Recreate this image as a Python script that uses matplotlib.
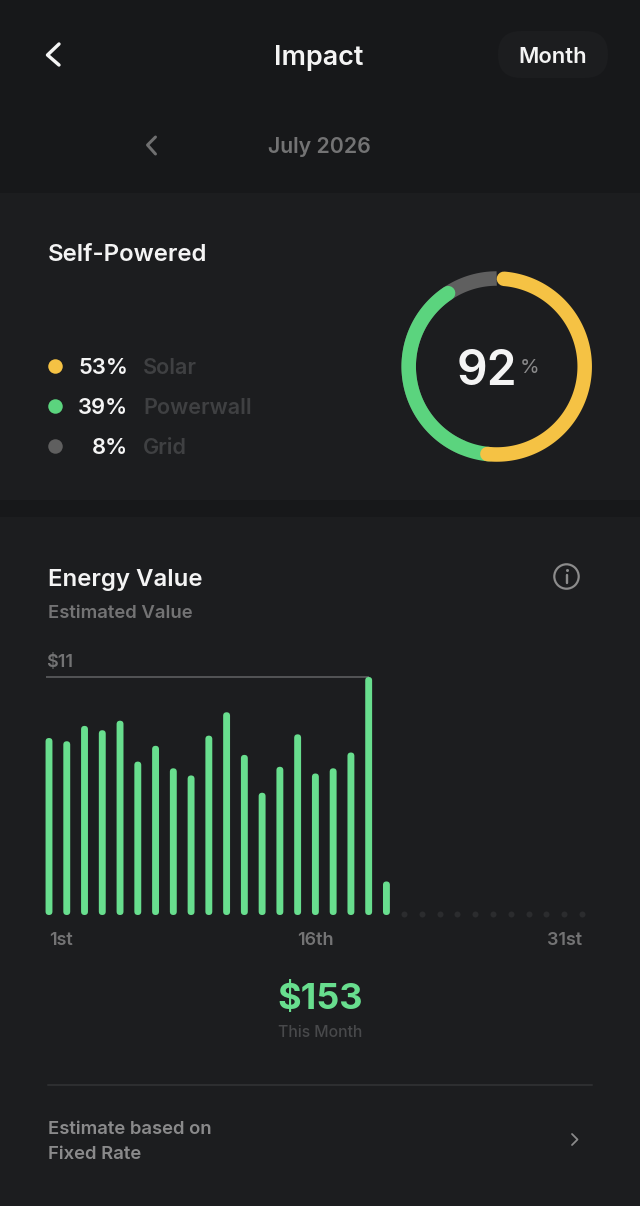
import numpy as np
import matplotlib
matplotlib.use("Agg")
import matplotlib.pyplot as plt
from matplotlib.patches import FancyBboxPatch, Rectangle

plt.rcParams['font.family'] = ['Inter', 'DejaVu Sans']

# ---- data ----
days = list(range(1, 21))
values = [8.18, 8.03, 8.74, 8.54, 8.98, 7.09, 7.82, 6.78, 6.45, 8.29,
          9.37, 7.40, 5.65, 6.85, 8.35, 6.54, 6.78, 7.51, 11.0, 1.55]
empty_days = list(range(21, 32))
tick_days = [1, 16, 31]
tick_labels = ['1st', '16th', '31st']
y_max = 11
source_names = ['Solar', 'Powerwall', 'Grid']
source_shares = [53, 39, 8]
source_colors = ['#f5c244', '#5bd47e', '#5f5f5f']

W, H = 640, 1206
BG = '#17181a'
PANEL = '#1c1d1f'
GREEN = '#68de8e'
fig = plt.figure(figsize=(W / 100, H / 100), dpi=100, facecolor=BG)


def px(x0, y0, x1, y1):
    """figure fraction rectangle from pixel box"""
    return [x0 / W, 1 - y1 / H, (x1 - x0) / W, (y1 - y0) / H]


ui = fig.add_axes([0, 0, 1, 1])
ui.set_xlim(0, W)
ui.set_ylim(H, 0)
ui.axis('off')
ui.add_patch(Rectangle((0, 193), W, 307, fc=PANEL, ec='none'))
ui.add_patch(Rectangle((0, 517), W, H - 517, fc=PANEL, ec='none'))
ui.add_patch(FancyBboxPatch((498, 31), 110, 47, boxstyle='round,pad=0,rounding_size=23',
                            fc='#1c1d1f', ec='none'))


def T(x, y, s, size, color='#f4f4f4', ha='left', weight=600):
    ui.text(x, y + size * 0.11, s, fontsize=size * 0.72, color=color, ha=ha, va='center', fontweight=weight)


def chevron(xs, ys, color, lw):
    ui.plot(xs, ys, color=color, lw=lw * 0.72, solid_capstyle='round', solid_joinstyle='round')


chevron([59, 47.5, 59], [44, 55, 65], '#f4f4f4', 3.4)
chevron([155.5, 147.5, 155.5], [137, 145, 154], '#6f6f70', 3)
chevron([572, 577.5, 572], [1134, 1139.5, 1145], '#8a8a8a', 1.8)

T(319, 55, 'Impact', 27)
ui.texts[-1].set_ha('center')
T(553, 55, 'Month', 22, ha='center')
T(319, 145, 'July 2026', 21.3, '#737374', ha='center')

T(48, 252, 'Self-Powered', 24)
rows_y = [366, 406, 446]
for yy, name, share, col in zip(rows_y, source_names, source_shares, source_colors):
    ui.scatter([55], [yy], s=(14.5 * 0.72) ** 2, color=col, linewidths=0)
    T(128, yy, f'{share}%', 22, ha='right')
    T(143, yy, name, 21.6, '#3f4042')

T(48, 577, 'Energy Value', 24)
T(48, 611, 'Estimated Value', 18.5, '#737374')
T(46, 661, '$11', 18, '#737374')
ui.add_patch(plt.Circle((566.5, 576.5), 12.2, fc='none', ec='#8c8c8c', lw=2.2 * 0.72))
ui.plot([566.5, 566.5], [575, 583], color='#8c8c8c', lw=2.4 * 0.72, solid_capstyle='round')
ui.scatter([566.5], [569.5], s=(3 * 0.72) ** 2, color='#8c8c8c', linewidths=0)

T(320, 996, '$153', 36, GREEN, ha='center', weight=700)
T(320, 1031, 'This Month', 15.7, '#48494b', ha='center', weight=500)
ui.plot([48, 592], [1084.5, 1084.5], color='#333436', lw=1.5 * 0.72)
T(48, 1127, 'Estimate based on', 18.5, '#8a8a8b')
T(48, 1152, 'Fixed Rate', 18.5, '#8a8a8b')

# ---- donut ----
cx, cy, R = 496.7, 366.5, 105
don = fig.add_axes(px(cx - R, cy - R, cx + R, cy + R), projection='polar')
don.patch.set_alpha(0)
don.set_theta_zero_location('N')
don.set_theta_direction(-1)
don.set_rlim(0, R)
don.axis('off')
ring_r, ring_w = 88, 14.5
inset = (ring_w / 2) / ring_r
edges = np.cumsum([0] + source_shares) / 100 * 2 * np.pi
don.plot(np.linspace(edges[1] + 0.2, 2 * np.pi, 80), [ring_r] * 80, color=source_colors[2],
         lw=ring_w * 0.72, solid_capstyle='butt', zorder=1)
don.plot(np.linspace(edges[1] - 0.1, edges[2] - inset, 120), [ring_r] * 120, color=source_colors[1],
         lw=ring_w * 0.72, solid_capstyle='round', zorder=2)
don.plot(np.linspace(edges[0] + inset, edges[1] - inset, 120), [ring_r] * 120, color=source_colors[0],
         lw=ring_w * 0.72, solid_capstyle='round', zorder=3)
T(487, 367, '92', 48, ha='center', weight=600)
T(529.5, 366, '%', 20, '#8a8a8b', ha='center', weight=400)

# ---- bars ----
step = 17.76
x_of = lambda d: 49 + step * (d - 1)
top_px, base_px = 677, 915
ax = fig.add_axes(px(x_of(0.5), top_px, x_of(31.5), base_px))
ax.patch.set_alpha(0)
ax.set_xlim(0.5, 31.5)
ax.set_ylim(0, y_max)
for s in ax.spines.values():
    s.set_visible(False)
ax.set_yticks([])
ax.set_xticks(tick_days)
ax.set_xticklabels(tick_labels, fontsize=18 * 0.72, color='#737374', fontweight=600)
ax.tick_params(axis='x', length=0, pad=12.5)
labels = ax.get_xticklabels()
labels[0].set_ha('left')
labels[2].set_ha('right')

ax.plot([1 - 0.17, 19], [y_max, y_max], color='#58595a', lw=1.8 * 0.72, clip_on=False, zorder=1,
        solid_capstyle='butt')
bw = 6.9 / step
aspect = (y_max / (base_px - top_px)) * step
for d, v in zip(days, values):
    ax.add_patch(FancyBboxPatch((d - bw / 2, 0), bw, v,
                                boxstyle=f'round,pad=0,rounding_size={bw / 2}',
                                mutation_aspect=aspect, fc=GREEN, ec='none', zorder=2, clip_on=False))
ax.scatter(empty_days, [0.03] * len(empty_days), s=(6 * 0.72) ** 2, color='#2b2c2e', linewidths=0,
           clip_on=False)

fig.savefig('out.png', dpi=100, facecolor=fig.get_facecolor())
